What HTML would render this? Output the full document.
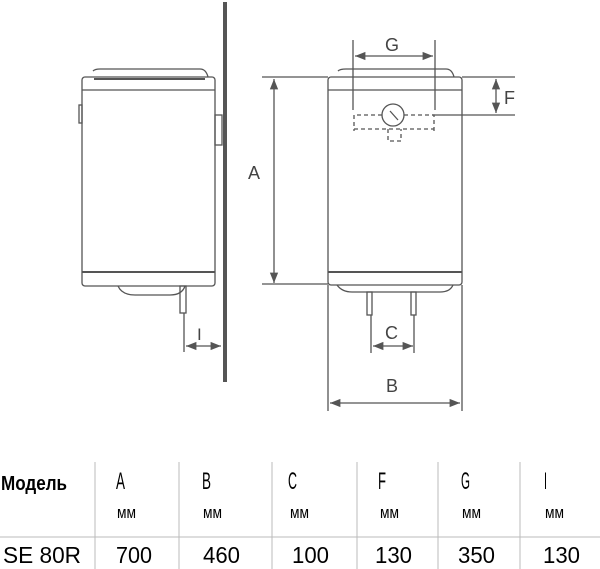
<!DOCTYPE html>
<html><head><meta charset="utf-8"><style>body{margin:0;background:#fff}svg{display:block}</style></head><body>
<svg width="600" height="569" viewBox="0 0 600 569" xmlns="http://www.w3.org/2000/svg" font-family="Liberation Sans, sans-serif">
<defs><marker id="a" viewBox="0 0 10 10" refX="10" refY="5" markerWidth="8" markerHeight="8" orient="auto-start-reverse"><path d="M0,1 L10,5 L0,9z" fill="#555"/></marker></defs>
<g fill="none" stroke="#555" stroke-width="1.3">
<path d="M93,71 Q95,69 100,69 L200,69 Q206,69 208,77"/>
<rect x="82" y="77" width="133" height="209" rx="3"/>
<line x1="82" y1="90" x2="215" y2="90"/>
<line x1="94" y1="79" x2="205" y2="79" stroke-width="2"/>
<line x1="82" y1="272" x2="215" y2="272" stroke-width="2"/>
<path d="M118,286 Q122,295 135,295 L170,295 Q182,295 185,286"/>
<rect x="79" y="105" width="3" height="18"/>
<rect x="215" y="115" width="7" height="30"/>
<rect x="180" y="286" width="6" height="27"/>
<line x1="184" y1="313" x2="184" y2="352"/>
<line x1="186" y1="346" x2="221" y2="346" marker-start="url(#a)" marker-end="url(#a)"/>
<path d="M338,71 Q340,69 346,69 L446,69 Q452,69 454,77"/>
<rect x="328" y="77" width="134" height="208" rx="3"/>
<line x1="328" y1="90" x2="462" y2="90"/>
<line x1="328" y1="272" x2="462" y2="272" stroke-width="2"/>
<path d="M337,285 Q342,292 352,292 L440,292 Q450,292 453,285"/>
<rect x="367" y="292" width="5" height="23"/>
<rect x="411" y="292" width="5" height="23"/>
<line x1="371" y1="315" x2="371" y2="353"/>
<line x1="414" y1="315" x2="414" y2="353"/>
<line x1="373" y1="346" x2="413" y2="346" marker-start="url(#a)" marker-end="url(#a)"/>
<line x1="328" y1="285" x2="328" y2="411"/>
<line x1="462" y1="285" x2="462" y2="411"/>
<line x1="330" y1="403" x2="460" y2="403" marker-start="url(#a)" marker-end="url(#a)"/>
<line x1="262" y1="77" x2="328" y2="77"/>
<line x1="262" y1="284" x2="328" y2="284"/>
<line x1="274" y1="79" x2="274" y2="283" marker-start="url(#a)" marker-end="url(#a)"/>
<line x1="353" y1="40" x2="353" y2="110"/>
<line x1="435" y1="40" x2="435" y2="110"/>
<line x1="355" y1="56" x2="433" y2="56" marker-start="url(#a)" marker-end="url(#a)"/>
<line x1="462" y1="77" x2="515" y2="77"/>
<line x1="432" y1="115" x2="515" y2="115"/>
<line x1="496" y1="79" x2="496" y2="113" marker-start="url(#a)" marker-end="url(#a)"/>
<circle cx="393" cy="115" r="11"/>
<line x1="390" y1="111" x2="398" y2="120"/>
<path d="M382,115 L354,115 L354,131 M404,115 L434,115 L434,131 M354,129 L434,129 M388,129 L388,141 L401,141 L401,129" stroke-dasharray="4,3"/>
<g stroke="#bbb" stroke-width="1">
<line x1="95" y1="462" x2="95" y2="569"/><line x1="179" y1="462" x2="179" y2="569"/><line x1="272" y1="462" x2="272" y2="569"/><line x1="357" y1="462" x2="357" y2="569"/><line x1="438" y1="462" x2="438" y2="569"/><line x1="520" y1="462" x2="520" y2="569"/>
<line x1="0" y1="537" x2="600" y2="537"/>
</g>
</g>
<rect x="223" y="2" width="4" height="380" fill="#555"/>
<g fill="#444" font-size="18">
<text x="197" y="340" font-size="17">I</text>
<text x="385" y="339">C</text>
<text x="386" y="392">B</text>
<text x="248" y="179">A</text>
<text x="385" y="51">G</text>
<text x="504" y="104">F</text>
</g>
<g fill="#000">
<text x="1" y="490" font-size="20" font-weight="bold" textLength="66" lengthAdjust="spacingAndGlyphs">Модель</text>
<g font-size="24"><text x="116" y="489" textLength="9" lengthAdjust="spacingAndGlyphs">A</text><text x="202" y="489" textLength="9" lengthAdjust="spacingAndGlyphs">B</text><text x="288" y="489" textLength="9" lengthAdjust="spacingAndGlyphs">C</text><text x="378" y="489" textLength="8" lengthAdjust="spacingAndGlyphs">F</text><text x="461" y="489" textLength="9" lengthAdjust="spacingAndGlyphs">G</text><text x="544" y="489" textLength="3" lengthAdjust="spacingAndGlyphs">I</text></g>
<g font-size="17"><text x="117" y="518" textLength="19" lengthAdjust="spacingAndGlyphs">мм</text><text x="203" y="518" textLength="19" lengthAdjust="spacingAndGlyphs">мм</text><text x="290" y="518" textLength="19" lengthAdjust="spacingAndGlyphs">мм</text><text x="380" y="518" textLength="19" lengthAdjust="spacingAndGlyphs">мм</text><text x="462" y="518" textLength="19" lengthAdjust="spacingAndGlyphs">мм</text><text x="545" y="518" textLength="19" lengthAdjust="spacingAndGlyphs">мм</text></g>
<g font-size="23"><text x="3" y="563" textLength="78" lengthAdjust="spacingAndGlyphs">SE 80R</text><text x="116" y="563" textLength="36" lengthAdjust="spacingAndGlyphs">700</text><text x="203" y="563" textLength="37" lengthAdjust="spacingAndGlyphs">460</text><text x="292" y="563" textLength="37" lengthAdjust="spacingAndGlyphs">100</text><text x="375" y="563" textLength="37" lengthAdjust="spacingAndGlyphs">130</text><text x="458" y="563" textLength="37" lengthAdjust="spacingAndGlyphs">350</text><text x="543" y="563" textLength="37" lengthAdjust="spacingAndGlyphs">130</text></g>
</g>
</svg>
</body></html>
